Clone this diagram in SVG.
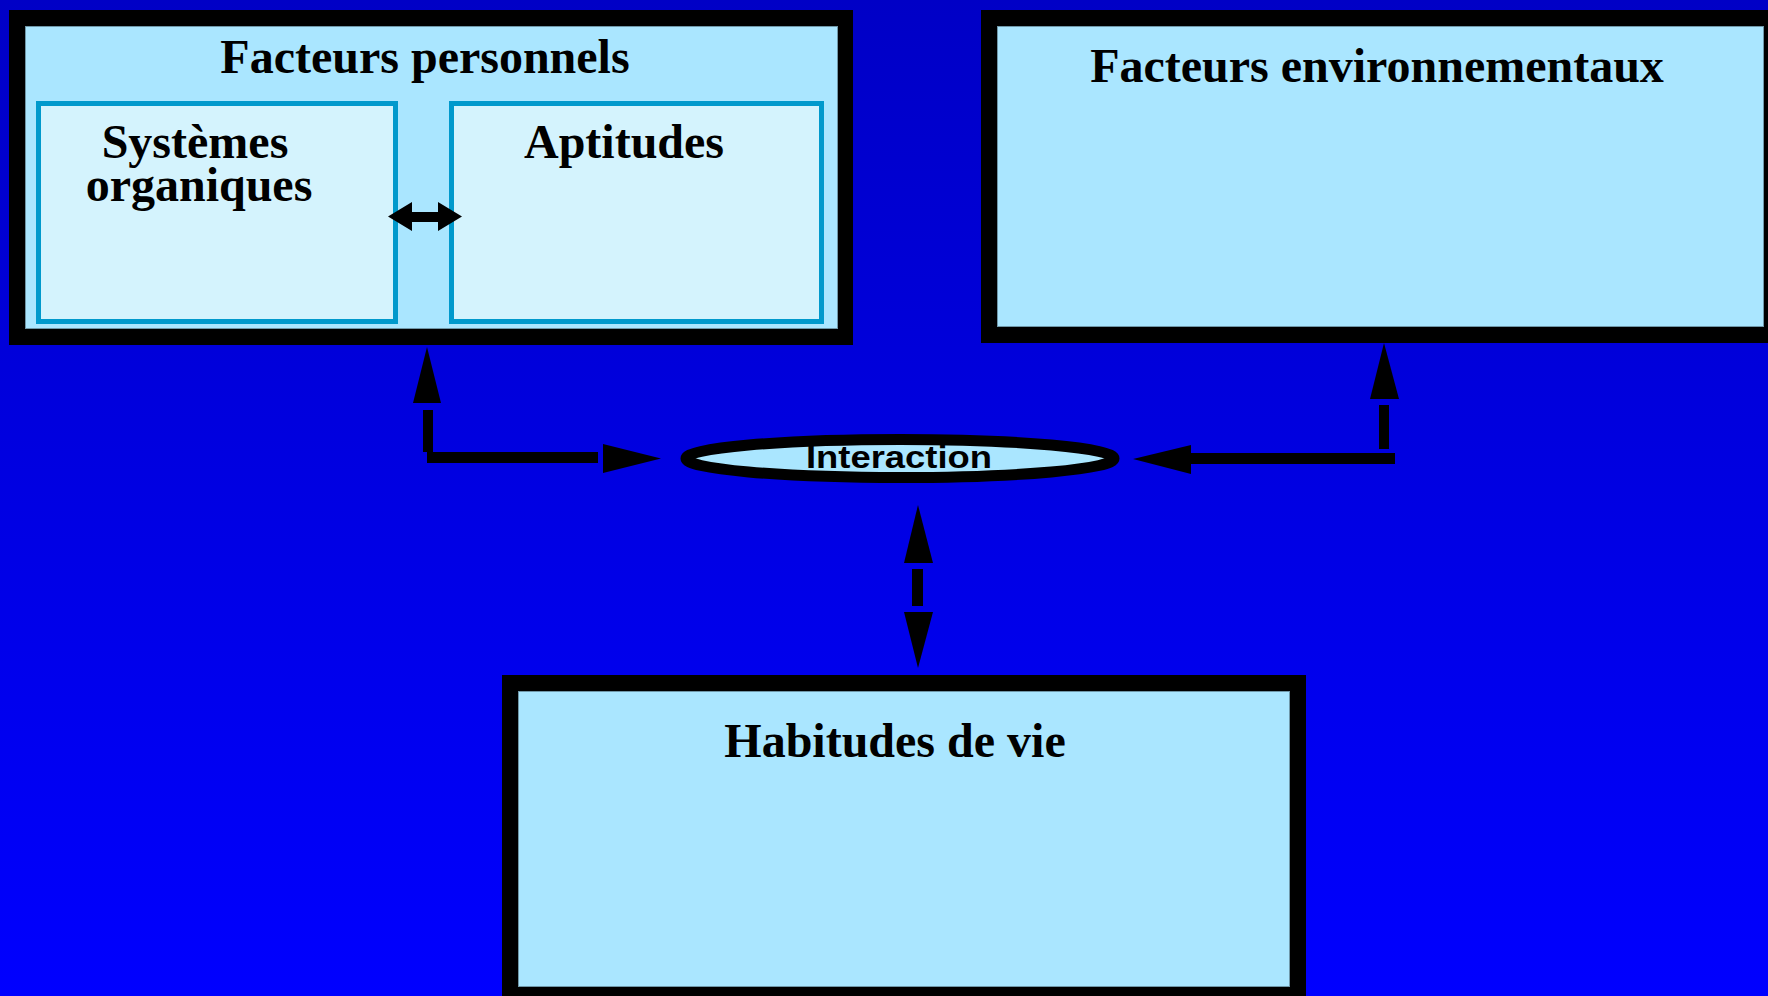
<svg xmlns="http://www.w3.org/2000/svg" width="1768" height="996" viewBox="0 0 1768 996">
  <defs>
    <linearGradient id="bg" x1="0" y1="0" x2="0" y2="1">
      <stop offset="0" stop-color="#0000C6"/>
      <stop offset="1" stop-color="#0000FF"/>
    </linearGradient>
    <style>
      .box { fill: #AAE6FF; stroke: #000000; stroke-width: 16; }
      .edge { fill: none; stroke: #6F97A8; stroke-width: 1; }
      .sub { fill: #D4F3FD; stroke: #0099CC; stroke-width: 5; }
      .title { font-family: "Liberation Serif", "Times New Roman", serif; font-weight: bold; font-size: 48px; fill: #000000; text-anchor: middle; }
      .lbl { font-family: "Liberation Sans", Arial, sans-serif; font-weight: bold; font-size: 31px; fill: #000000; text-anchor: middle; }
      .ink { fill: #000000; stroke: none; }
    </style>
  </defs>
  <rect x="0" y="0" width="1768" height="996" fill="url(#bg)"/>

  <g id="facteurs-personnels">
    <rect class="box" x="17" y="18" width="828" height="319"/>
    <rect class="edge" x="25.5" y="26.5" width="812" height="302"/>
    <text class="title" x="425" y="73">Facteurs personnels</text>
  </g>
  <g id="systemes-organiques">
    <rect class="sub" x="38.5" y="103.5" width="357" height="218"/>
    <text class="title" x="195" y="158">Systèmes</text>
    <text class="title" x="199" y="201">organiques</text>
  </g>
  <g id="aptitudes">
    <rect class="sub" x="451.5" y="103.5" width="370" height="218"/>
    <text class="title" x="624" y="158">Aptitudes</text>
  </g>

  <g id="facteurs-environnementaux">
    <rect class="box" x="989" y="18" width="783" height="317"/>
    <rect class="edge" x="997.5" y="26.5" width="766" height="300"/>
    <text class="title" x="1377" y="82">Facteurs environnementaux</text>
  </g>

  <g id="habitudes-de-vie">
    <rect class="box" x="510" y="683" width="788" height="312"/>
    <rect class="edge" x="518.5" y="691.5" width="771" height="295"/>
    <text class="title" x="895" y="757">Habitudes de vie</text>
  </g>

  <g id="interaction">
    <ellipse cx="900" cy="458.5" rx="214" ry="19" fill="#AAE6FF" stroke="#000000" stroke-width="11"/>
    <text class="lbl" x="899" y="468" textLength="186" lengthAdjust="spacingAndGlyphs">Interaction</text>
  </g>

  <g id="connectors">
    <!-- between Systèmes organiques and Aptitudes -->
    <polygon class="ink" points="388,216.5 412,202 412,212 438,212 438,202 462,216.5 438,231 438,222 412,222 412,231"/>
    <!-- personnels <-> interaction -->
    <polygon class="ink" points="427,347 441,403 413,403"/>
    <rect class="ink" x="423" y="410" width="10" height="42"/>
    <rect class="ink" x="427" y="452" width="171" height="11"/>
    <polygon class="ink" points="603,444 661,458.5 603,473"/>
    <!-- environnementaux <-> interaction -->
    <polygon class="ink" points="1384,343 1399,399 1370,399"/>
    <rect class="ink" x="1379" y="405" width="10" height="44"/>
    <rect class="ink" x="1191" y="453" width="204" height="11"/>
    <polygon class="ink" points="1133,459 1191,445 1191,474"/>
    <!-- interaction <-> habitudes -->
    <polygon class="ink" points="918,505 933,563 904,563"/>
    <rect class="ink" x="912" y="569" width="11" height="37"/>
    <polygon class="ink" points="904,612 933,612 918,668"/>
  </g>
</svg>
